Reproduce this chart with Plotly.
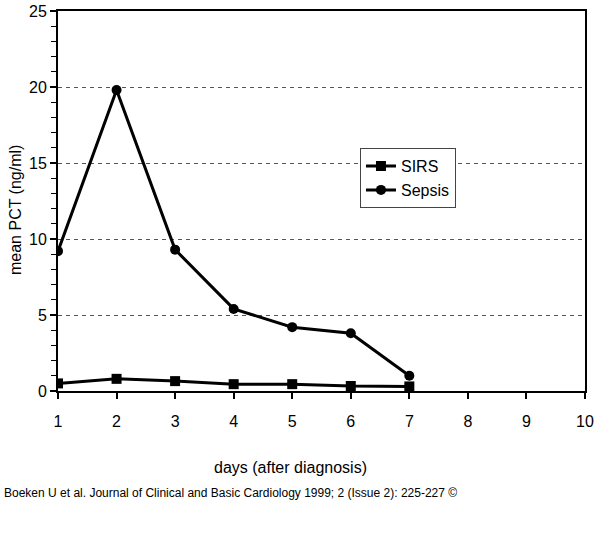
import plotly.graph_objects as go

days = [1, 2, 3, 4, 5, 6, 7]
sirs = [0.5, 0.8, 0.65, 0.45, 0.45, 0.33, 0.3]
sepsis = [9.2, 19.8, 9.3, 5.4, 4.2, 3.8, 1.0]
x_ticks = [1, 2, 3, 4, 5, 6, 7, 8, 9, 10]
y_ticks = [0, 5, 10, 15, 20, 25]

FONT = "Liberation Sans, Arial, sans-serif"

fig = go.Figure()
fig.add_trace(go.Scatter(
    x=days, y=sirs, name="SIRS", mode="lines+markers",
    line=dict(color="black", width=3),
    marker=dict(symbol="square", size=10, color="black"),
))
fig.add_trace(go.Scatter(
    x=days, y=sepsis, name="Sepsis", mode="lines+markers",
    line=dict(color="black", width=3),
    marker=dict(symbol="circle", size=10, color="black"),
))

fig.update_layout(
    width=600, height=545,
    margin=dict(l=58, r=15, t=11, b=154, autoexpand=False),
    paper_bgcolor="white", plot_bgcolor="white",
    font=dict(family=FONT, size=16, color="black"),
    showlegend=True,
    legend=dict(
        x=0.573, y=0.639, xanchor="left", yanchor="top",
        bgcolor="white", bordercolor="#444", borderwidth=1,
        font=dict(size=16, family=FONT),
        tracegroupgap=4, itemwidth=30,
    ),
    xaxis=dict(
        range=[1, 10], tickvals=x_ticks, ticks="outside", ticklen=6,
        tickwidth=2, tickcolor="black", automargin=False,
        showline=True, linecolor="black", linewidth=2, mirror=True,
        showgrid=False, zeroline=False, ticklabelstandoff=9,
        tickfont=dict(size=16),
    ),
    yaxis=dict(
        range=[0, 25], tickvals=y_ticks, ticks="outside", ticklen=6,
        tickwidth=2, tickcolor="black", automargin=False,
        minor=dict(dtick=1, ticks="outside", ticklen=5, tickcolor="black", tickwidth=1, showgrid=False),
        showline=True, linecolor="black", linewidth=2, mirror=True,
        showgrid=True, gridcolor="#555", griddash="4px,4px", gridwidth=1,
        zeroline=False, tickfont=dict(size=16),
    ),
    annotations=[
        dict(text="days (after diagnosis)", xref="paper", yref="paper",
             x=(290 - 58) / 527, y=(391 - 467) / 380, xanchor="center", yanchor="middle",
             showarrow=False, font=dict(size=16, family=FONT)),
        dict(text="mean PCT (ng/ml)", xref="paper", yref="paper",
             x=(15 - 58) / 527, y=(391 - 210) / 380, xanchor="center", yanchor="middle",
             textangle=-90, showarrow=False, font=dict(size=16, family=FONT)),
        dict(text="Boeken U et al. Journal of Clinical and Basic Cardiology 1999; 2 (Issue 2): 225-227 ©",
             xref="paper", yref="paper",
             x=(2 - 58) / 527, y=(391 - 493) / 380, xanchor="left", yanchor="middle",
             showarrow=False, font=dict(size=12, family=FONT)),
    ],
)

fig.write_html(
    "out.html",
    config={"displayModeBar": False},
    post_script="document.body.style.margin='0px';document.body.style.overflow='hidden';",
)
